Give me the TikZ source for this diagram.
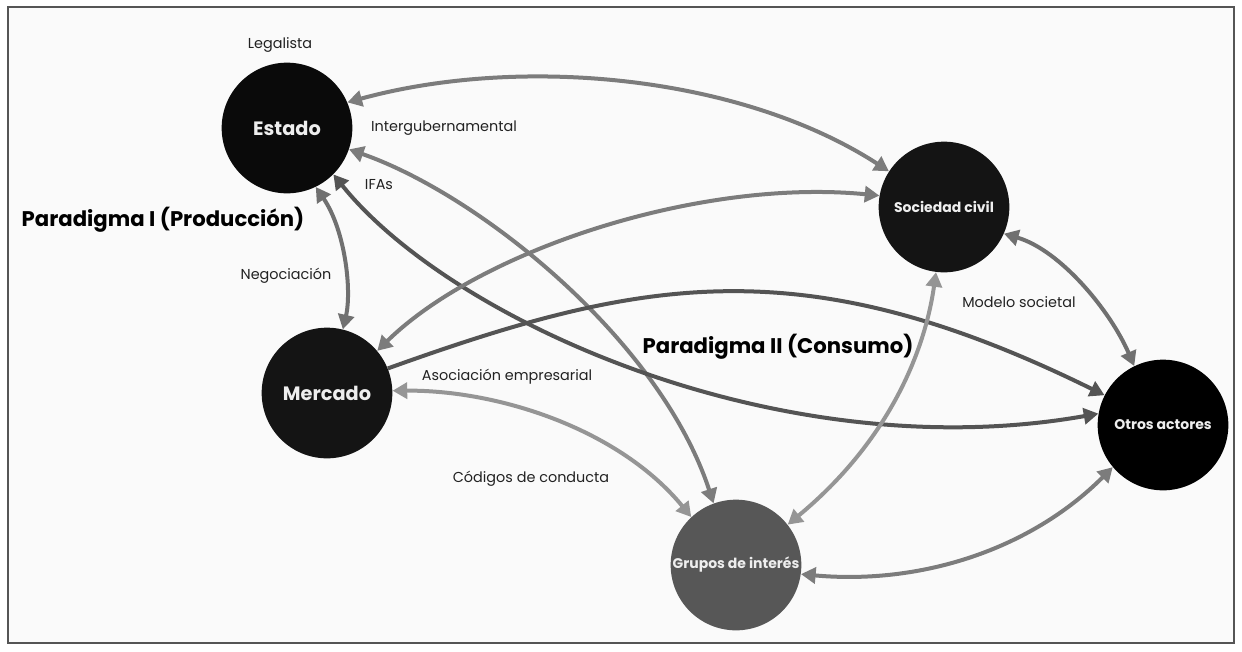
\documentclass[tikz,border=0pt]{standalone}
\usepackage{fontspec}
\setmainfont{Poppins}
\usetikzlibrary{arrows.meta}
\definecolor{bgc}{HTML}{FAFAFA}
\definecolor{framec}{HTML}{555555}
\definecolor{txtc}{HTML}{222222}
\definecolor{nodetxt}{HTML}{EEEEEE}
\definecolor{darkline}{HTML}{545454}
\definecolor{midline}{HTML}{707070}
\definecolor{midlineB}{HTML}{7C7C7C}
\definecolor{lightline}{HTML}{959595}
\definecolor{greynode}{HTML}{575757}
\begin{document}
\begin{tikzpicture}[x=0.75pt,y=-0.75pt,
  actor/.style={circle, minimum size=98pt, inner sep=0pt, fill=#1, text=nodetxt},
  bigname/.style={font=\bfseries\fontsize{14.5}{17}\selectfont},
  smallname/.style={font=\bfseries\fontsize{10.5}{12}\selectfont},
  lbl/.style={text=txtc, font=\fontsize{10.8}{12}\selectfont},
  para/.style={text=black, font=\bfseries\fontsize{15.9}{19}\selectfont},
  both/.style={line width=3pt, {Triangle[length=11pt,width=12pt]}-{Triangle[length=11pt,width=12pt]}},
  single/.style={line width=3pt, -{Triangle[length=11pt,width=12pt]}}
]
\useasboundingbox (0,0) rectangle (1242,651);
\draw[framec, line width=1.5pt, fill=bgc] (8,7) rectangle (1234,643);

% actors
\node[actor=black!96, bigname] (estado) at (287,128) {Estado};
\node[actor=black!92, smallname] (soc) at (944,207) {Sociedad civil};
\node[actor=black!92, bigname] (merc) at (327,393) {Mercado};
\node[actor=black, smallname] (otros) at (1163,425) {Otros actores};
\node[actor=greynode, smallname] (grupos) at (736,565) {Grupos de interés};

% labels
\node[lbl] (legalista) at (280,45) {Legalista};
\node[lbl] (interg) at (444,128) {Intergubernamental};
\node[lbl] (ifas) at (379,185) {IFAs};
\node[para] (par1) at (163,220) {Paradigma I (Producción)};
\node[lbl] (negoc) at (286,276) {Negociación};
\node[lbl] (asoc) at (507,377) {Asociación empresarial};
\node[lbl] (codigos) at (531,479) {Códigos de conducta};
\node[para] (par2) at (778,347) {Paradigma II (Consumo)};
\node[lbl] (modelo) at (1019,302) {Modelo societal};

% connectors
\draw[both, draw=midlineB] (estado.23) .. controls (520,55) and (740,75) .. (soc.147);
\draw[both, draw=midlineB] (estado.-19) .. controls (480,195) and (660,340) .. (grupos.110);
\draw[both, draw=darkline] (estado.-45) .. controls (450,320) and (780,470) .. (otros.170);
\draw[both, draw=midline] (estado.-64) .. controls (345,230) and (352,290) .. (merc.76);
\draw[both, draw=midlineB] (soc.170) .. controls (700,178) and (480,250) .. (merc.40);
\draw[single, draw=darkline] (merc.22) .. controls (640,278) and (802,246) .. (otros.153);
\draw[both, draw=lightline] (merc.2) .. controls (500,390) and (620,430) .. (grupos.133);
\draw[both, draw=lightline] (soc.-97) .. controls (925,350) and (890,440) .. (grupos.38);
\draw[both, draw=midline] (soc.-24) .. controls (1060,250) and (1110,310) .. (otros.116);
\draw[both, draw=midlineB] (grupos.-8) .. controls (920,585) and (1030,550) .. (otros.220);
\end{tikzpicture}
\end{document}
